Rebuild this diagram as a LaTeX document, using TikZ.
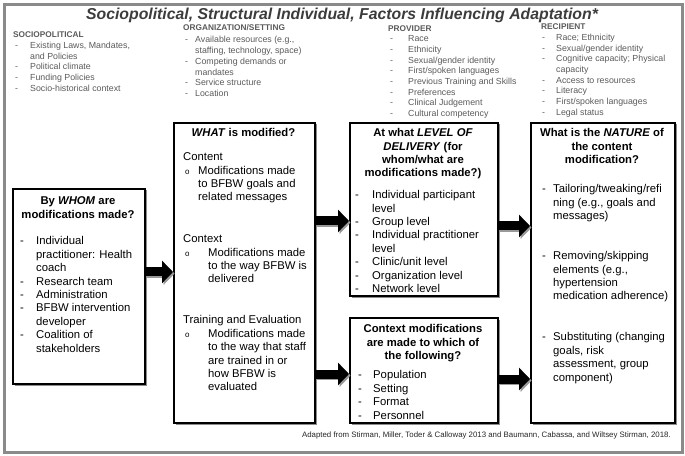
\documentclass[tikz,border=0pt]{standalone}
\usepackage{fontspec}
\setmainfont{Liberation Sans}
\usetikzlibrary{arrows.meta,shadows}
\definecolor{hdrgray}{HTML}{5A5A5A}
\definecolor{titlegray}{HTML}{3C3C3C}
\definecolor{framegray}{HTML}{8A8A8A}
\newcommand{\bigf}{\fontsize{11.3bp}{13.4bp}\selectfont}
\newcommand{\smallf}{\fontsize{8.8bp}{10.7bp}\selectfont}
\newcommand{\strutB}{\rule{0pt}{10bp}}
\newcommand{\strutS}{\rule{0pt}{8bp}}
\newcommand{\myd}[1]{\makebox[#1][l]{-}}
\newcommand{\myo}[1]{\makebox[#1][l]{\fontsize{8bp}{8bp}\selectfont o}}
\tikzset{
  framebox/.style={draw=framegray, line width=2.6bp, inner sep=0, anchor=north west},
  box/.style={draw=black, line width=1.8bp, fill=white, inner sep=0, anchor=north west,
    drop shadow={shadow xshift=1.6bp, shadow yshift=-1.6bp, fill=black!45, opacity=1}},
  txt/.style={anchor=north west, inner sep=0, align=left, font=\bigf},
  ttl/.style={anchor=north, inner sep=0, align=center, font=\bigf\bfseries},
  hdr/.style={anchor=base west, inner sep=0, font=\fontsize{8.3bp}{10bp}\selectfont\bfseries, text=hdrgray},
  lst/.style={anchor=north west, inner sep=0, align=left, font=\smallf, text=hdrgray},
  arrmain/.style={draw=black, line width=9bp, -{Triangle[length=11bp,width=22bp]}},
  arrshadow/.style={draw=black!40, line width=9bp, -{Triangle[length=11bp,width=22bp]},
    transform canvas={shift={(1.6bp,-1.6bp)}}},
}
\newcommand{\bigarr}[3]{%
  \draw[arrshadow] (#1.east |- 0,#3) -- (#2.west |- 0,#3);
  \draw[arrmain] (#1.east |- 0,#3) -- (#2.west |- 0,#3);}
\begin{document}
\begin{tikzpicture}[x=1bp,y=-1bp]
\useasboundingbox (0,0) rectangle (685,456);
\node[framebox, minimum width=678bp, minimum height=448bp] (frame) at (3,3) {};

% title
\node[anchor=base, inner sep=0, font=\fontsize{15.8bp}{18bp}\selectfont\bfseries\itshape, text=titlegray] (title) at (342,19.5)
  {Sociopolitical, Structural Individual, Factors Influencing Adaptation*};

% column headers
\node[hdr] (hsocio) at (13,38) {SOCIOPOLITICAL};
\node[hdr] (horg) at (183,31) {ORGANIZATION/SETTING};
\node[hdr] (hprov) at (388,32) {PROVIDER};
\node[hdr] (hrec) at (541,30) {RECIPIENT};

\node[lst] (lsocio) at (15,40.3) {\strutS\myd{15bp}Existing Laws, Mandates,\\
  \hspace*{15bp}and Policies\\ \myd{15bp}Political climate\\ \myd{15bp}Funding Policies\\
  \myd{15bp}Socio-historical context};
\node[lst] (lorg) at (185,34.8) {\strutS\myd{10bp}Available resources (e.g.,\\
  \hspace*{10bp}staffing, technology, space)\\ \myd{10bp}Competing demands or\\
  \hspace*{10bp}mandates\\ \myd{10bp}Service structure\\ \myd{10bp}Location};
\node[lst] (lprov) at (390,33.6) {\strutS\myd{18bp}Race\\ \myd{18bp}Ethnicity\\
  \myd{18bp}Sexual/gender identity\\ \myd{18bp}First/spoken languages\\
  \myd{18bp}Previous Training and Skills\\ \myd{18bp}Preferences\\
  \myd{18bp}Clinical Judgement\\ \myd{18bp}Cultural competency};
\node[lst] (lrec) at (542,32.3) {\strutS\myd{14bp}Race; Ethnicity\\
  \myd{14bp}Sexual/gender identity\\ \myd{14bp}Cognitive capacity; Physical\\
  \hspace*{14bp}capacity\\ \myd{14bp}Access to resources\\ \myd{14bp}Literacy\\
  \myd{14bp}First/spoken languages\\ \myd{14bp}Legal status};

% boxes
\node[box, minimum width=132bp, minimum height=195bp] (whom) at (12,188) {};
\node[box, minimum width=141bp, minimum height=300bp] (what) at (173,122) {};
\node[box, minimum width=148bp, minimum height=173bp] (level) at (349,122) {};
\node[box, minimum width=148bp, minimum height=105bp] (ctx) at (349,317) {};
\node[box, minimum width=144bp, minimum height=300bp] (nature) at (530,122) {};

% WHOM
\node[ttl] (whomt) at (78,194.6) {\strutB By \textit{WHOM} are\\ modifications made?};
\node[txt] (whomi) at (20,234.6) {\strutB\myd{16bp}Individual\\
  \hspace*{16bp}practitioner: Health\\ \hspace*{16bp}coach\\ \myd{16bp}Research team\\
  \myd{16bp}Administration\\ \myd{16bp}BFBW intervention\\ \hspace*{16bp}developer\\
  \myd{16bp}Coalition of\\ \hspace*{16bp}stakeholders};

% WHAT
\node[ttl] (whatt) at (243.5,126.6) {\strutB\textit{WHAT} is modified?};
\node[txt] (whatc) at (183,150.6) {\strutB Content\\
  \hspace*{2bp}\myo{13bp}Modifications made\\ \hspace*{15bp}to BFBW goals and\\
  \hspace*{15bp}related messages};
\node[txt] (whatx) at (183,232.6) {\strutB Context\\
  \hspace*{2bp}\myo{23bp}Modifications made\\ \hspace*{25bp}to the way BFBW is\\
  \hspace*{25bp}delivered};
\node[txt] (whatte) at (183,313.6) {\strutB Training and Evaluation\\
  \hspace*{2bp}\myo{23bp}Modifications made\\ \hspace*{25bp}to the way that staff\\
  \hspace*{25bp}are trained in or\\ \hspace*{25bp}how BFBW is\\ \hspace*{25bp}evaluated};

% LEVEL
\node[ttl] (levelt) at (423,126.6) {\strutB At what \textit{LEVEL OF}\\
  \textit{DELIVERY} (for\\ whom/what are\\ modifications made?)};
\node[txt] (leveli) at (355,188.6) {\strutB\myd{17bp}Individual participant\\
  \hspace*{17bp}level\\ \myd{17bp}Group level\\ \myd{17bp}Individual practitioner\\
  \hspace*{17bp}level\\ \myd{17bp}Clinic/unit level\\ \myd{17bp}Organization level\\
  \myd{17bp}Network level};

% CONTEXT
\node[ttl] (ctxt) at (423,322.6) {\strutB Context modifications\\
  are made to which of\\ the following?};
\node[txt] (ctxi) at (358,368.6) {\strutB\myd{15bp}Population\\ \myd{15bp}Setting\\
  \myd{15bp}Format\\ \myd{15bp}Personnel};

% NATURE
\node[ttl] (naturet) at (602,126.6) {\strutB What is the \textit{NATURE} of\\
  the content\\ modification?};
\node[txt] (naturea) at (542,182.6) {\strutB\myd{11bp}Tailoring/tweaking/refi\\
  \hspace*{11bp}ning (e.g., goals and\\ \hspace*{11bp}messages)};
\node[txt] (natureb) at (542,249.6) {\strutB\myd{11bp}Removing/skipping\\
  \hspace*{11bp}elements (e.g.,\\ \hspace*{11bp}hypertension\\
  \hspace*{11bp}medication adherence)};
\node[txt] (naturec) at (542,330.6) {\strutB\myd{11bp}Substituting (changing\\
  \hspace*{11bp}goals, risk\\ \hspace*{11bp}assessment, group\\
  \hspace*{11bp}component)};

% arrows
\bigarr{whom}{what}{272}
\bigarr{what}{level}{221}
\bigarr{what}{ctx}{374}
\bigarr{level}{nature}{226}
\bigarr{ctx}{nature}{379}

% source
\node[anchor=base east, inner sep=0, font=\fontsize{7.85bp}{10bp}\selectfont, text=black!85] (src) at (671,437)
  {Adapted from Stirman, Miller, Toder \& Calloway 2013 and Baumann, Cabassa, and Wiltsey Stirman, 2018.};
\end{tikzpicture}
\end{document}
